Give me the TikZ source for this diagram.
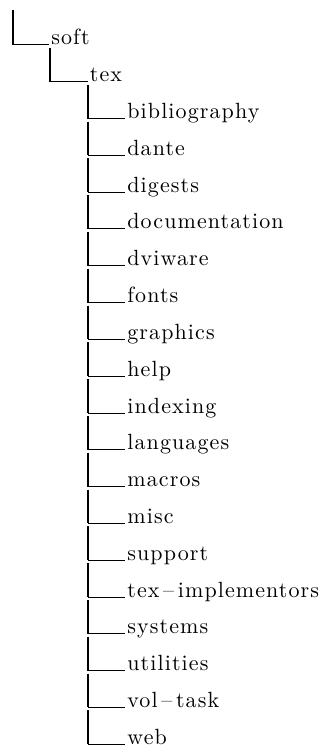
\documentclass[tikz,border=0pt]{standalone}
\usepackage{fontspec}
\newfontfamily\dirfamily{lmroman10-regular}[Extension=.otf, LetterSpace=5]
\newcommand\dirfont{\dirfamily\fontsize{11}{13}\selectfont}
\tikzset{
  stem/.style={line width=1pt},
  twig/.style={line width=0.5pt},
  dir/.style={anchor=base west, inner sep=0pt, font=\dirfont}
}
\begin{document}
\begin{tikzpicture}[x=0.5pt,y=-0.5pt]
\useasboundingbox (0,0) rectangle (334,748);
% upper levels
\coordinate (root) at (12.5,10);
\node[dir] (soft) at (51,45) {soft};
\draw[stem] (root) -- (12.5,45);
\draw[twig] (12.5,45) -- ([xshift=-1pt]soft.base west);
\node[dir] (tex) at (89.5,81.8) {tex};
\draw[stem] (50,48) -- (50,81.8);
\draw[twig] (50,81.8) -- ([xshift=-1pt]tex.base west);
% subdirectories of tex
\foreach \name [count=\i] in {bibliography,dante,digests,documentation,dviware,fonts,graphics,help,indexing,languages,macros,misc,support,tex\,\textendash\,implementors,systems,utilities,vol\,\textendash\,task,web}
{
  \node[dir] (d\i) at (127,{81.8+\i*36.8}) {\name};
  \draw[stem] (88,{81.8+(\i-1)*36.8+3}) -- (88,0 |- d\i.base);
  \draw[twig] (88,0 |- d\i.base) -- ([xshift=-1pt]d\i.base west);
}
\end{tikzpicture}
\end{document}
